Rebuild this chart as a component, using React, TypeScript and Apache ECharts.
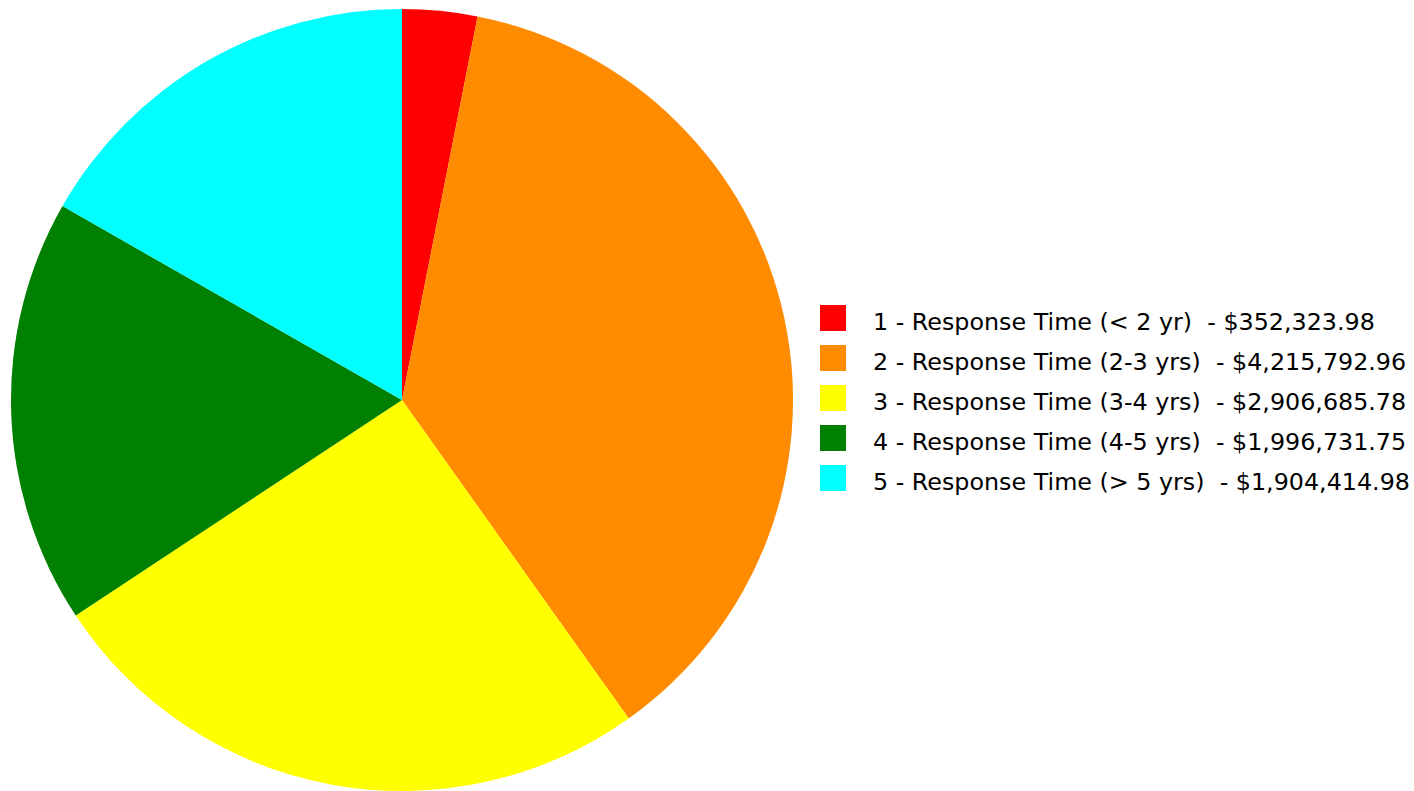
import React, { useEffect, useRef } from "react";
import * as echarts from "echarts";

const categories = [
  "1 - Response Time (< 2 yr)",
  "2 - Response Time (2-3 yrs)",
  "3 - Response Time (3-4 yrs)",
  "4 - Response Time (4-5 yrs)",
  "5 - Response Time (> 5 yrs)",
];
const values = [352323.98, 4215792.96, 2906685.78, 1996731.75, 1904414.98];
const colors = ["#ff0000", "#ff8c00", "#ffff00", "#008000", "#00ffff"];

const fmt = (v: number) =>
  "$" + v.toLocaleString("en-US", { minimumFractionDigits: 2, maximumFractionDigits: 2 });

export default function App() {
  const ref = useRef<HTMLDivElement>(null);
  useEffect(() => {
    if (!ref.current) return;
    const chart = echarts.init(ref.current, undefined, { renderer: "svg" });
    chart.setOption({
      animation: false,
      backgroundColor: "#ffffff",
      legend: {
        orient: "vertical",
        left: 820,
        top: 305,
        itemWidth: 26,
        itemHeight: 26,
        itemGap: 11,
        icon: "rect",
        padding: 0,
        formatter: (name: string) => {
          const i = categories.indexOf(name);
          return "{t|" + name + "  - " + fmt(values[i]) + "}";
        },
        textStyle: {
          fontFamily: "DejaVu Sans",
          fontSize: 23.8,
          color: "#000000",
          padding: [0, 0, 0, 22],
          rich: {
            t: {
              fontFamily: "DejaVu Sans",
              fontSize: 23.8,
              color: "#000000",
              padding: [8, 0, 0, 0],
            },
          },
        },
      },
      series: [
        {
          type: "pie",
          center: [402, 400],
          radius: 391,
          startAngle: 90,
          clockwise: true,
          label: { show: false },
          labelLine: { show: false },
          emphasis: { disabled: true },
          itemStyle: { borderWidth: 0 },
          data: categories.map((c, i) => ({
            name: c,
            value: values[i],
            itemStyle: { color: colors[i] },
          })),
        },
      ],
    });
    return () => chart.dispose();
  }, []);
  return (
    <div
      ref={ref}
      style={{ position: "fixed", left: 0, top: 0, width: 1414, height: 791 }}
    />
  );
}
